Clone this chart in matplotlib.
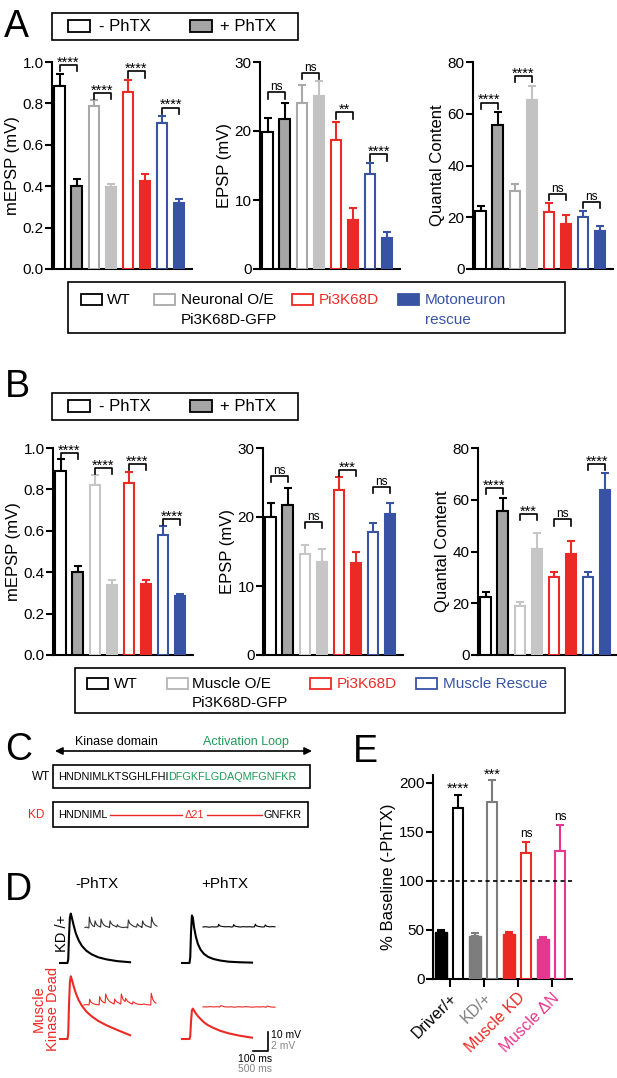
import matplotlib
matplotlib.use('Agg')
import matplotlib.pyplot as plt
from matplotlib.patches import Rectangle

plt.rcParams['font.family'] = ['Liberation Sans', 'DejaVu Sans']

W, H = 617, 1078

BLACK = '#000000'
WT_FILL = '#a5a5a5'
NEU_GRAY = '#a9a9a9'
NEU_FILL = '#c2c2c2'
MUS_GRAY = '#c6c6c6'
RED = '#ec2a25'
BLUE = '#3853a4'
PINK = '#e6368d'
GREEN = '#1e9a57'
E_GRAY = '#7d7d7d'

# ---------------- data: panel A (WT, Neuronal O/E, Pi3K68D, Motoneuron rescue)
a_mepsp_ctrl = [0.885, 0.786, 0.853, 0.706]
a_mepsp_ctrl_sem = [0.057, 0.032, 0.061, 0.035]
a_mepsp_phtx = [0.40, 0.395, 0.424, 0.32]
a_mepsp_phtx_sem = [0.034, 0.018, 0.035, 0.02]
a_mepsp_brk = [0.985, 0.85, 0.955, 0.78]
a_mepsp_sig = ['****', '****', '****', '****']

a_epsp_ctrl = [19.9, 24.0, 18.7, 13.8]
a_epsp_ctrl_sem = [2.0, 2.6, 2.6, 1.6]
a_epsp_phtx = [21.7, 25.1, 7.1, 4.5]
a_epsp_phtx_sem = [2.4, 2.1, 1.7, 0.8]
a_epsp_brk = [25.6, 28.4, 22.7, 16.6]
a_epsp_sig = ['ns', 'ns', '**', '****']

a_qc_ctrl = [22.6, 30.3, 22.0, 20.0]
a_qc_ctrl_sem = [1.9, 2.6, 3.5, 2.5]
a_qc_phtx = [55.5, 65.2, 17.5, 14.5]
a_qc_phtx_sem = [5.1, 5.4, 3.5, 2.0]
a_qc_brk = [64.3, 74.6, 29.0, 26.0]
a_qc_sig = ['****', '****', 'ns', 'ns']

# ---------------- data: panel B (WT, Muscle O/E, Pi3K68D, Muscle Rescue)
b_mepsp_ctrl = [0.889, 0.823, 0.83, 0.58]
b_mepsp_ctrl_sem = [0.059, 0.047, 0.054, 0.043]
b_mepsp_phtx = [0.40, 0.34, 0.345, 0.285]
b_mepsp_phtx_sem = [0.03, 0.02, 0.015, 0.01]
b_mepsp_brk = [0.976, 0.903, 0.924, 0.658]
b_mepsp_sig = ['****', '****', '****', '****']

b_epsp_ctrl = [19.95, 14.6, 23.9, 17.8]
b_epsp_ctrl_sem = [2.05, 1.4, 1.9, 1.3]
b_epsp_phtx = [21.7, 13.5, 13.4, 20.5]
b_epsp_phtx_sem = [2.5, 1.9, 1.6, 1.5]
b_epsp_brk = [26.0, 19.3, 26.8, 24.4]
b_epsp_sig = ['ns', 'ns', '***', 'ns']

b_qc_ctrl = [22.6, 19.0, 30.0, 30.0]
b_qc_ctrl_sem = [1.9, 1.5, 2.0, 2.0]
b_qc_phtx = [55.5, 40.8, 39.2, 63.7]
b_qc_phtx_sem = [5.1, 6.2, 4.7, 6.6]
b_qc_brk = [64.5, 54.4, 52.4, 73.8]
b_qc_sig = ['****', '***', 'ns', '****']

# ---------------- data: panel E
e_labels = ['Driver/+', 'KD/+', 'Muscle KD', 'Muscle \u0394N']
e_mini = [48, 44, 46, 41]
e_mini_sem = [2, 3, 2, 2]
e_qc = [174, 180, 128.6, 130.6]
e_qc_sem = [14, 23, 11.5, 26.5]
e_sig = ['****', '***', 'ns', 'ns']

# ---------------- data: panel D traces (ms, mV)
epsp_t = [0, 50, 55, 60, 66, 72, 80, 92, 106, 124, 146, 175, 210, 255, 310, 380, 467]
epsp_kd_ctrl = [0, 0, 2, 14, 24, 26, 23.5, 19.5, 15.5, 12, 9, 6.5, 4.6, 3.0, 1.9, 1.0, 0.4]
epsp_kd_phtx = [0, 0, 3, 16, 25, 24, 19, 14, 10, 7, 4.8, 3.2, 2.1, 1.3, 0.7, 0.4, 0.2]
epsp_red_ctrl = [0, 0, 3, 18, 30, 33, 31, 27.5, 24, 20.5, 17.5, 14.5, 12, 9.5, 7.2, 4.8, 2.0]
epsp_red_phtx = [0, 0, 1.5, 9, 15, 16, 15, 13.5, 12, 10.5, 8.8, 7.2, 5.8, 4.3, 3.0, 1.8, 0.7]

mini_kd_ctrl_t = [0, 60, 110, 130, 145, 175, 220, 270, 315, 335, 370, 420, 480, 520, 535,
                  570, 620, 680, 740, 815, 835, 870, 930, 1000, 1060, 1078, 1110, 1180, 1280,
                  1380, 1425, 1445, 1490, 1560, 1640, 1720, 1745, 1790, 1880, 1900, 1920, 1960,
                  2030, 2110, 2200, 2220, 2255, 2310, 2360, 2400]
mini_kd_ctrl_v = [0.05, 0.1, 0.0, 0.05, 1.15, 0.7, 0.4, 0.2, 0.15, 0.75, 0.45, 0.25, 0.15, 0.1, 0.95,
                  0.6, 0.35, 0.2, 0.15, 0.05, 0.75, 0.5, 0.3, 0.2, 0.1, 0.35, 0.2, 0.1, 0.05,
                  0.1, 0.0, 0.85, 0.5, 0.3, 0.15, 0.1, 0.45, 0.25, 0.1, 0.05, 0.75, 0.45,
                  0.25, 0.15, 0.05, 1.15, 0.7, 0.4, 0.25, 0.2]
mini_kd_phtx_t = [0, 100, 200, 300, 400, 500, 522, 560, 650, 750, 850, 950, 1000, 1021, 1060, 1150,
                  1250, 1350, 1450, 1550, 1650, 1720, 1743, 1780, 1880, 1980, 2050, 2076, 2120,
                  2220, 2320, 2400]
mini_kd_phtx_v = [0.0, 0.03, -0.02, 0.02, 0.0, 0.03, 0.28, 0.12, 0.05, 0.02, 0.04, 0.0, 0.02, 0.25, 0.1, 0.03,
                  0.0, 0.04, 0.01, 0.03, 0.0, 0.02, 0.3, 0.12, 0.04, 0.0, 0.02, 0.22, 0.08,
                  0.02, 0.04, 0.02]
mini_red_ctrl_t = [0, 80, 170, 189, 230, 300, 400, 505, 522, 570, 640, 705, 722, 780, 860, 940, 1005,
                   1021, 1080, 1160, 1225, 1243, 1300, 1370, 1388, 1450, 1540, 1615, 1632, 1700,
                   1800, 1900, 2000, 2100, 2225, 2242, 2290, 2350, 2400]
mini_red_ctrl_v = [0.0, 0.05, 0.0, 0.6, 0.3, 0.15, 0.05, 0.02, 0.88, 0.5, 0.3, 0.2, 1.16, 0.65, 0.35, 0.2, 0.1,
                   0.63, 0.35, 0.2, 0.1, 1.16, 0.6, 0.35, 0.7, 0.4, 0.2, 0.1, 0.35, 0.2,
                   0.08, 0.05, 0.1, 0.03, 0.0, 1.23, 0.6, 0.3, 0.2]
mini_red_phtx_t = [0, 120, 240, 360, 480, 560, 600, 700, 820, 940, 1060, 1180, 1300, 1420, 1540, 1660,
                   1780, 1900, 2020, 2100, 2140, 2260, 2400]
mini_red_phtx_v = [0.02, 0.0, 0.04, 0.01, 0.03, 0.0, 0.15, 0.03, 0.0, 0.02, -0.02, 0.03, 0.0, 0.04, 0.01, -0.02,
                   0.02, 0.0, 0.03, -0.03, 0.1, 0.0, -0.02]

fig = plt.figure(figsize=(W / 100, H / 100), dpi=100)


def px_box(x0, y0, x1, y1):
    return [x0 / W, 1 - y1 / H, (x1 - x0) / W, (y1 - y0) / H]


def sig_label(ax, x, y, label, gap_px=2):
    # place glyph bottoms gap_px above y (asterisks sit high in the em box)
    fs = 10.5 if '*' in label else 8.5
    off = gap_px + 2.5 - 0.42 * fs * 100 / 72 if '*' in label else gap_px
    ax.annotate(label, (x, y), xytext=(0, off * 0.72), textcoords='offset points',
                ha='center', va='baseline', fontsize=fs, annotation_clip=False)


def style_axis(ax):
    ax.spines[['top', 'right']].set_visible(False)
    for s in ('left', 'bottom'):
        ax.spines[s].set_linewidth(1.5)
    ax.tick_params(axis='y', direction='out', length=5, width=1.5, labelsize=11, pad=1)


def bar_panel(box, ctrl, ctrl_sem, phtx, phtx_sem, styles, brk_y, sig, ymax, yticks, fmt, ylabel):
    ax = fig.add_axes(px_box(*box))
    tick_len = ymax * 0.03
    for i, (c_edge, p_face, p_edge) in enumerate(styles):
        x0, x1 = 2 * i, 2 * i + 1
        ax.bar(x0, ctrl[i], width=0.62, color='white', edgecolor=c_edge, linewidth=1.5, zorder=3)
        ax.bar(x1, phtx[i], width=0.62, color=p_face, edgecolor=p_edge, linewidth=1.5, zorder=3)
        ax.errorbar(x0, ctrl[i], yerr=[[0], [ctrl_sem[i]]], fmt='none', ecolor=c_edge,
                    elinewidth=1.5, capsize=2.8, capthick=1.5, zorder=2)
        ax.errorbar(x1, phtx[i], yerr=[[0], [phtx_sem[i]]], fmt='none', ecolor=p_edge,
                    elinewidth=1.5, capsize=2.8, capthick=1.5, zorder=2)
        y = brk_y[i]
        ax.plot([x0, x0, x1, x1], [y - tick_len, y, y, y - tick_len], color='black',
                lw=1.2, clip_on=False)
        sig_label(ax, (x0 + x1) / 2, y, sig[i])
    ax.set_xlim(-0.45, 7.75)
    ax.set_ylim(0, ymax)
    ax.set_xticks([])
    ax.set_yticks(yticks)
    ax.set_yticklabels([fmt.format(t) for t in yticks])
    ax.set_ylabel(ylabel, fontsize=12, labelpad=2)
    style_axis(ax)
    return ax


a_styles = [(BLACK, WT_FILL, BLACK), (NEU_GRAY, NEU_FILL, NEU_FILL),
            (RED, RED, RED), (BLUE, BLUE, BLUE)]
b_styles = [(BLACK, WT_FILL, BLACK), (MUS_GRAY, MUS_GRAY, MUS_GRAY),
            (RED, RED, RED), (BLUE, BLUE, BLUE)]

bar_panel((52, 62, 192, 269), a_mepsp_ctrl, a_mepsp_ctrl_sem, a_mepsp_phtx, a_mepsp_phtx_sem,
          a_styles, a_mepsp_brk, a_mepsp_sig, 1.0, [0, 0.2, 0.4, 0.6, 0.8, 1.0], '{:.1f}', 'mEPSP (mV)')
bar_panel((260, 62, 400, 269), a_epsp_ctrl, a_epsp_ctrl_sem, a_epsp_phtx, a_epsp_phtx_sem,
          a_styles, a_epsp_brk, a_epsp_sig, 30, [0, 10, 20, 30], '{:d}', 'EPSP (mV)')
bar_panel((473, 62, 613, 269), a_qc_ctrl, a_qc_ctrl_sem, a_qc_phtx, a_qc_phtx_sem,
          a_styles, a_qc_brk, a_qc_sig, 80, [0, 20, 40, 60, 80], '{:d}', 'Quantal Content')

bar_panel((53, 448, 193, 655), b_mepsp_ctrl, b_mepsp_ctrl_sem, b_mepsp_phtx, b_mepsp_phtx_sem,
          b_styles, b_mepsp_brk, b_mepsp_sig, 1.0, [0, 0.2, 0.4, 0.6, 0.8, 1.0], '{:.1f}', 'mEPSP (mV)')
bar_panel((263, 448, 403, 655), b_epsp_ctrl, b_epsp_ctrl_sem, b_epsp_phtx, b_epsp_phtx_sem,
          b_styles, b_epsp_brk, b_epsp_sig, 30, [0, 10, 20, 30], '{:d}', 'EPSP (mV)')
bar_panel((478, 448, 618, 655), b_qc_ctrl, b_qc_ctrl_sem, b_qc_phtx, b_qc_phtx_sem,
          b_styles, b_qc_brk, b_qc_sig, 80, [0, 20, 40, 60, 80], '{:d}', 'Quantal Content')

# ---------------- panel E
e_colors = [BLACK, E_GRAY, RED, PINK]
ax = fig.add_axes(px_box(433, 775, 572, 979))
for i, col in enumerate(e_colors):
    x0, x1 = 2 * i, 2 * i + 1
    ax.bar(x0, e_mini[i], width=0.7, color=col, edgecolor=col, linewidth=1.0, zorder=3)
    ax.bar(x1, e_qc[i], width=0.62, color='white', edgecolor=col, linewidth=1.5, zorder=3)
    ax.errorbar(x0, e_mini[i], yerr=[[0], [e_mini_sem[i]]], fmt='none', ecolor=col,
                elinewidth=1.5, capsize=2.8, capthick=1.5, zorder=2)
    ax.errorbar(x1, e_qc[i], yerr=[[0], [e_qc_sem[i]]], fmt='none', ecolor=col,
                elinewidth=1.5, capsize=2.8, capthick=1.5, zorder=2)
    sig_label(ax, x1, e_qc[i] + e_qc_sem[i], e_sig[i], gap_px=5)
ax.axhline(100, color='black', lw=1.2, ls=(0, (2.5, 2)), zorder=4)
ax.set_xlim(-0.47, 7.7)
ax.set_ylim(0, 208)
ax.set_yticks([0, 50, 100, 150, 200])
ax.set_xticks([0.5, 2.5, 4.5, 6.5])
ax.set_xticklabels(e_labels, rotation=45, ha='right', va='top', rotation_mode='anchor', fontsize=11.5)
for lab, col in zip(ax.get_xticklabels(), e_colors):
    lab.set_color(col)
ax.tick_params(axis='x', direction='out', length=6, width=1.5, pad=2)
ax.set_ylabel('% Baseline (-PhTX)', fontsize=12, labelpad=2)
style_axis(ax)


# ---------------- panel D traces
def trace(x0, base_y, t, v, px_ms, px_mv, color, lw):
    t_max = t[-1]
    v_lo, v_hi = min(v) - 0.5, max(v) + 0.5
    tax = fig.add_axes(px_box(x0, base_y - v_hi * px_mv, x0 + t_max * px_ms, base_y - v_lo * px_mv))
    tax.plot(t, v, color=color, lw=lw, clip_on=False, solid_joinstyle='round')
    tax.set_xlim(0, t_max)
    tax.set_ylim(v_lo, v_hi)
    tax.axis('off')
    return tax


EP_MS, EP_MV = 0.15, 1.9
MI_MS, MI_MV = 0.03, 9.5
trace(60, 963, epsp_t, epsp_kd_ctrl, EP_MS, EP_MV, BLACK, 1.5)
trace(182, 963, epsp_t, epsp_kd_phtx, EP_MS, EP_MV, BLACK, 1.5)
trace(60, 1039, epsp_t, epsp_red_ctrl, EP_MS, EP_MV, RED, 1.5)
trace(182, 1039, epsp_t, epsp_red_phtx, EP_MS, EP_MV, RED, 1.5)
trace(85, 928, mini_kd_ctrl_t, mini_kd_ctrl_v, MI_MS, MI_MV, '#333333', 0.8)
trace(203, 927, mini_kd_phtx_t, mini_kd_phtx_v, MI_MS, MI_MV, BLACK, 0.8)
trace(84, 1005, mini_red_ctrl_t, mini_red_ctrl_v, MI_MS, MI_MV, RED, 0.8)
trace(203, 1007, mini_red_phtx_t, mini_red_phtx_v, MI_MS, MI_MV, RED, 0.8)
sb = trace(253, 1051, [0, 100, 100], [0, 0, 10], EP_MS, EP_MV, BLACK, 1.2)

# ---------------- overlay: letters, legends, panel C
lay = fig.add_axes([0, 0, 1, 1])
lay.set_xlim(0, W)
lay.set_ylim(H, 0)
lay.axis('off')

for letter, x, y in [('A', 4, 37), ('B', 5, 397), ('C', 5, 760), ('D', 5, 900), ('E', 353, 762)]:
    lay.text(x, y, letter, fontsize=27, va='baseline', ha='left')


def box(x, y, w, h, lw=1.2):
    lay.add_patch(Rectangle((x, y), w, h, fill=False, edgecolor='black', lw=lw))


def swatch(x, y, face, edge, w=21, h=11):
    lay.add_patch(Rectangle((x, y), w, h, facecolor=face, edgecolor=edge, lw=1.3))


# +/- PhTX legends
for top in (13, 393):
    box(52, top, 246, 26.5)
    swatch(68, top + 7, 'white', BLACK, 22, 12)
    lay.text(99, top + 13.5, '- PhTX', fontsize=12, va='center')
    swatch(190, top + 7, WT_FILL, BLACK, 22, 12)
    lay.text(220, top + 13.5, '+ PhTX', fontsize=12, va='center')

# genotype legend A
box(68, 282, 497, 51)
swatch(81, 294, 'white', BLACK)
lay.text(107, 300, 'WT', fontsize=11, va='center')
swatch(154, 294, 'white', NEU_GRAY)
lay.text(181, 300, 'Neuronal O/E', fontsize=11, va='center')
lay.text(181, 320, 'Pi3K68D-GFP', fontsize=11, va='center')
swatch(292, 294, 'white', RED)
lay.text(319, 300, 'Pi3K68D', fontsize=11, va='center', color=RED)
swatch(398, 294, BLUE, BLUE)
lay.text(425, 300, 'Motoneuron', fontsize=11, va='center', color=BLUE)
lay.text(425, 320, 'rescue', fontsize=11, va='center', color=BLUE)

# genotype legend B
box(75, 668, 490, 45)
swatch(87, 678, 'white', BLACK)
lay.text(114, 684, 'WT', fontsize=11, va='center')
swatch(167, 678, 'white', '#b5b5b5')
lay.text(192, 684, 'Muscle O/E', fontsize=11, va='center')
lay.text(192, 703, 'Pi3K68D-GFP', fontsize=11, va='center')
swatch(310, 678, 'white', RED)
lay.text(337, 684, 'Pi3K68D', fontsize=11, va='center', color=RED)
swatch(416, 678, 'white', BLUE)
lay.text(443, 684, 'Muscle Rescue', fontsize=11, va='center', color=BLUE)

# panel C schematic
lay.annotate('', xy=(312, 751), xytext=(55, 751),
             arrowprops=dict(arrowstyle='<|-|>', color='black', lw=1.2, mutation_scale=11,
                             shrinkA=0, shrinkB=0))
lay.text(75, 742, 'Kinase domain', fontsize=9, va='center')
lay.text(203, 742, 'Activation Loop', fontsize=9, va='center', color=GREEN)
box(53, 765, 257, 23)
lay.text(32, 777, 'WT', fontsize=8.5, va='center')
seq1 = lay.text(58, 777, 'HNDNIMLKTSGHLFHI', fontsize=7.8, va='center')
lay.annotate('DFGKFLGDAQMFGNFKR', xy=(1, 0), xycoords=seq1, va='bottom', ha='left',
             fontsize=7.8, color=GREEN)
box(53, 802, 255, 25)
lay.text(28, 815, 'KD', fontsize=8.5, va='center', color=RED)
lay.text(58, 815, 'HNDNIML', fontsize=7.8, va='center')
lay.plot([110, 182], [815, 815], color=RED, lw=1.0)
lay.text(194, 815, '\u039421', fontsize=7.8, va='center', ha='center', color=RED)
lay.plot([207, 262], [815, 815], color=RED, lw=1.0)
lay.text(263, 815, 'GNFKR', fontsize=7.8, va='center')

# panel D labels
lay.text(97, 884, '-PhTX', fontsize=11, ha='center', va='center')
lay.text(225, 884, '+PhTX', fontsize=11, ha='center', va='center')
lay.text(62, 933, 'KD /+', fontsize=10.5, rotation=90, ha='center', va='center')
lay.text(46, 1009, 'Muscle\nKinase Dead', fontsize=10.5, rotation=90, ha='center', va='center',
         multialignment='center', color=RED, linespacing=1.0)
lay.text(271, 1035, '10 mV', fontsize=7.5, va='center')
lay.text(271, 1046, '2 mV', fontsize=7.5, va='center', color='#888888')
lay.text(255, 1059, '100 ms', fontsize=7.5, va='center', ha='center')
lay.text(255, 1069, '500 ms', fontsize=7.5, va='center', ha='center', color='#888888')

fig.savefig('out.png', dpi=100)
